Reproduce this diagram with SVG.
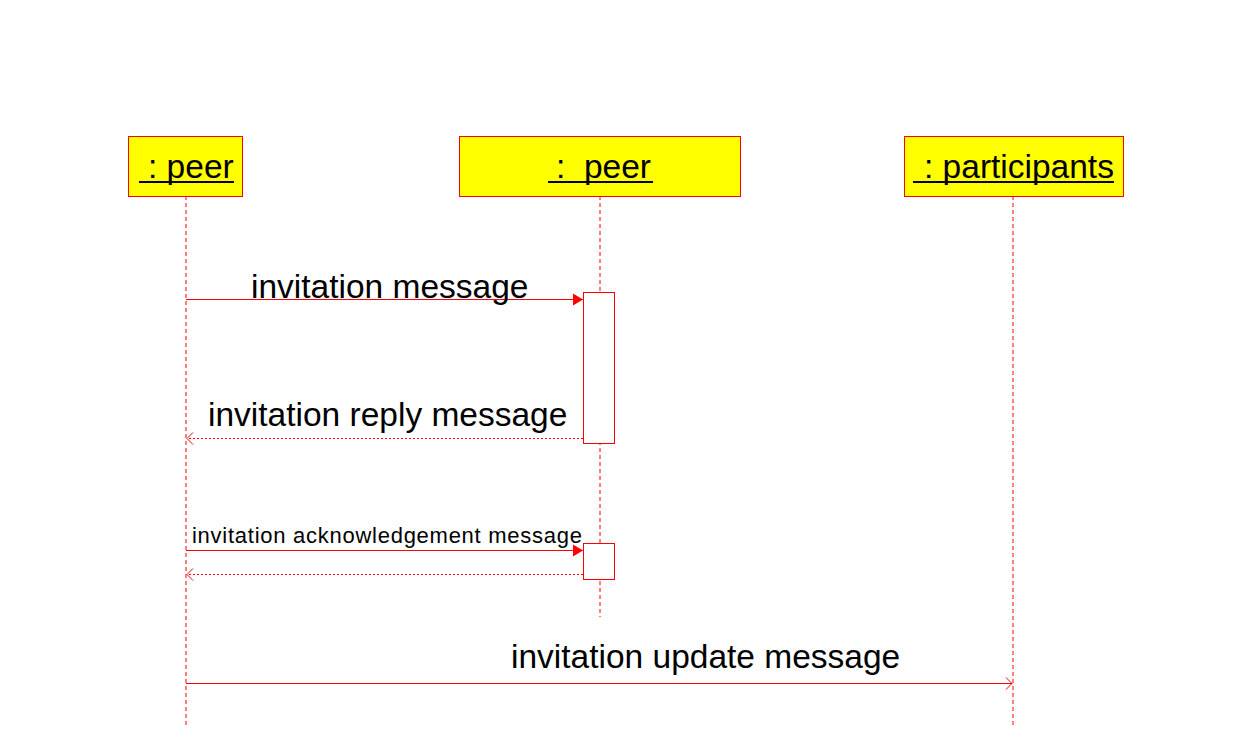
<svg xmlns="http://www.w3.org/2000/svg" width="1237" height="753" viewBox="0 0 1237 753">
<style>
.box{fill:#ffff00;stroke:#ff0000;stroke-width:1}
.nt{font-family:"Liberation Sans",Arial,sans-serif;font-size:33.5px;fill:#000}
.ul{stroke:#000;stroke-width:2}
.life{stroke:#ff0000;stroke-width:1;stroke-dasharray:4,3;fill:none}
.act{fill:#fff;stroke:#ff0000;stroke-width:1}
.msg{stroke:#ff0000;stroke-width:1;fill:none}
.ret{stroke:#ff0000;stroke-width:1;stroke-dasharray:2,2;fill:none}
.lbl{font-family:"Liberation Sans",Arial,sans-serif;font-size:33.5px;fill:#000}
</style>
<defs>
<marker id="fill" markerWidth="12" markerHeight="14" refX="11" refY="7" orient="auto" markerUnits="userSpaceOnUse">
<path d="M1,1 L11,7 L1,13 Z" fill="#ff0000"/>
</marker>
<marker id="open" markerWidth="14" markerHeight="14" refX="12" refY="7" orient="auto" markerUnits="userSpaceOnUse">
<path d="M6,1 L12,7 L6,13" fill="none" stroke="#ff0000" stroke-width="1"/>
</marker>
</defs>
<rect width="1237" height="753" fill="#fff"/>
<g id="lifelines">
<line class="life" x1="186" y1="196" x2="186" y2="727"/>
<line class="life" x1="600" y1="196" x2="600" y2="617"/>
<line class="life" x1="1013" y1="196" x2="1013" y2="727"/>
</g>
<g id="peer1">
<rect class="box" x="128.5" y="136.5" width="114" height="60"/>
<text class="nt" x="148" y="178">: peer</text>
<line class="ul" x1="139" y1="182" x2="234" y2="182"/>
</g>
<g id="peer2">
<rect class="box" x="459.5" y="136.5" width="281" height="60"/>
<text class="nt" x="556" y="178" xml:space="preserve">:  peer</text>
<line class="ul" x1="548" y1="182" x2="653" y2="182"/>
</g>
<g id="participants">
<rect class="box" x="904.5" y="136.5" width="219" height="60"/>
<text class="nt" x="924" y="178">: participants</text>
<line class="ul" x1="913" y1="182" x2="1114" y2="182"/>
</g>
<g id="activation1">
<rect class="act" x="583.5" y="292.5" width="31" height="151"/>
</g>
<g id="activation2">
<rect class="act" x="583.5" y="543.5" width="31" height="36"/>
</g>
<g id="connectors">
<line class="msg" x1="186" y1="299.5" x2="583" y2="299.5" marker-end="url(#fill)"/>
<line class="ret" x1="583" y1="438.5" x2="187" y2="438.5" marker-end="url(#open)"/>
<line class="msg" x1="186" y1="550.5" x2="583" y2="550.5" marker-end="url(#fill)"/>
<line class="ret" x1="583" y1="574.5" x2="187" y2="574.5" marker-end="url(#open)"/>
<line class="msg" x1="186" y1="683.5" x2="1012" y2="683.5" marker-end="url(#open)"/>
</g>
<g id="labels">
<text class="lbl" x="251" y="298">invitation message</text>
<text class="lbl" x="208" y="426">invitation reply message</text>
<text class="lbl" x="192" y="543" style="font-size:22px" textLength="390" lengthAdjust="spacing">invitation acknowledgement message</text>
<text class="lbl" x="511" y="668">invitation update message</text>
</g>
</svg>
